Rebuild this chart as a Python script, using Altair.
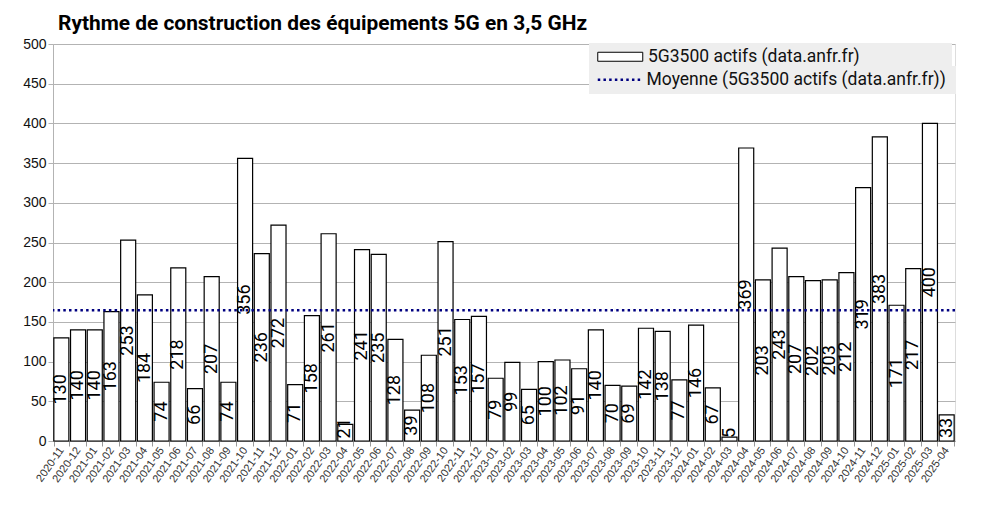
import altair as alt
import pandas as pd

TITLE = "Rythme de construction des équipements 5G en 3,5 GHz"
SERIES = "5G3500 actifs (data.anfr.fr)"
MEAN = "Moyenne (5G3500 actifs (data.anfr.fr))"

months = [
    "2020-11", "2020-12",
    "2021-01", "2021-02", "2021-03", "2021-04", "2021-05", "2021-06",
    "2021-07", "2021-08", "2021-09", "2021-10", "2021-11", "2021-12",
    "2022-01", "2022-02", "2022-03", "2022-04", "2022-05", "2022-06",
    "2022-07", "2022-08", "2022-09", "2022-10", "2022-11", "2022-12",
    "2023-01", "2023-02", "2023-03", "2023-04", "2023-05", "2023-06",
    "2023-07", "2023-08", "2023-09", "2023-10", "2023-11", "2023-12",
    "2024-01", "2024-02", "2024-03", "2024-04", "2024-05", "2024-06",
    "2024-07", "2024-08", "2024-09", "2024-10", "2024-11", "2024-12",
    "2025-01", "2025-02", "2025-03", "2025-04",
]
values = [
    130, 140,
    140, 163, 253, 184, 74, 218,
    66, 207, 74, 356, 236, 272,
    71, 158, 261, 21, 241, 235,
    128, 39, 108, 251, 153, 157,
    79, 99, 65, 100, 102, 91,
    140, 70, 69, 142, 138, 77,
    146, 67, 5, 369, 203, 243,
    207, 202, 203, 212, 319, 383,
    171, 217, 400, 33,
]
y_ticks = [0, 50, 100, 150, 200, 250, 300, 350, 400, 450, 500]

df = pd.DataFrame({"mois": months, "valeur": values})
base = alt.Chart(df)

x_axis = alt.Axis(title=None, labelAngle=-55, labelFontSize=11, labelFont="Liberation Sans",
                  labelColor="#333333", tickBand="extent", tickSize=5, tickColor="#999999",
                  domainColor="#999999", grid=False, labelPadding=2)
x_scale = alt.Scale(paddingInner=0.1, paddingOuter=0.05)
y_scale = alt.Scale(domain=[0, 500], nice=False)
y_axis = alt.Axis(title=None, values=y_ticks, labelFontSize=14, labelFont="Liberation Sans",
                  labelColor="#111111", tickSize=5, tickColor="#b3b3b3", domainColor="#b3b3b3",
                  gridColor="#b3b3b3", labelPadding=2)

legend_common = dict(
    title=None, orient="none", direction="vertical", symbolSize=100, symbolOffset=17.5,
    labelFont="Roboto", labelFontSize=17.5, labelColor="#111111", labelLimit=700,
    fillColor="#eeeeee", padding=5,
)

bars = base.transform_calculate(serie=f"'{SERIES}'").mark_bar(
    stroke="black", strokeWidth=1.2
).encode(
    x=alt.X("mois:N", sort=months, scale=x_scale, axis=x_axis),
    y=alt.Y("valeur:Q", scale=y_scale, axis=y_axis),
    fill=alt.Fill(
        "serie:N",
        scale=alt.Scale(domain=[SERIES], range=["white"]),
        legend=alt.Legend(
            legendX=536, legendY=-1,
            symbolType="M-4.5,-0.9H4.5V0.9H-4.5Z",
            symbolStrokeColor="black", symbolStrokeWidth=1, symbolFillColor="white",
            labelOffset=19,
            labelExpr="pad(datum.label, 48, '\u00a0') + '\u200b'",
            **legend_common,
        ),
    ),
)

mean_rule = base.transform_aggregate(moyenne="mean(valeur)").transform_calculate(
    serie2=f"'{MEAN}'"
).mark_rule(color="#000080", strokeWidth=2.5).encode(
    y=alt.Y("moyenne:Q", scale=y_scale, axis=y_axis),
    strokeDash=alt.StrokeDash(
        "serie2:N",
        scale=alt.Scale(domain=[MEAN], range=[[2.5, 3.2]]),
        legend=alt.Legend(
            legendX=536, legendY=22,
            symbolType="M-4.5,0H4.5",
            symbolStrokeColor="#000080", symbolStrokeWidth=2.5, symbolFillColor="transparent",
            labelOffset=17.5,
            labelExpr="pad(datum.label, 39, '\u00a0') + '\u200b'",
            **legend_common,
        ),
    ),
)

labels = base.transform_calculate(
    pos="max(datum.valeur / 2, 6 * length(toString(datum.valeur)) + 4)"
).mark_text(
    angle=270, align="center", baseline="middle", font="Roboto", fontSize=18, color="black"
).encode(
    x=alt.X("mois:N", sort=months, scale=x_scale, axis=x_axis),
    y=alt.Y("pos:Q", scale=y_scale, axis=y_axis),
    text=alt.Text("valeur:Q"),
)

chart = alt.layer(bars, mean_rule, labels).properties(
    width=902,
    height=397,
    padding={"left": 14, "top": 5, "right": 10, "bottom": 4},
    title=alt.Title(TITLE, anchor="start", frame="group", font="Roboto", fontSize=20.9,
                    fontWeight="bold", color="black", offset=3, dx=5),
).configure_view(stroke="#b3b3b3", strokeWidth=1).configure(background="white")

chart.save("out.html", embed_options={"renderer": "svg", "actions": False})
